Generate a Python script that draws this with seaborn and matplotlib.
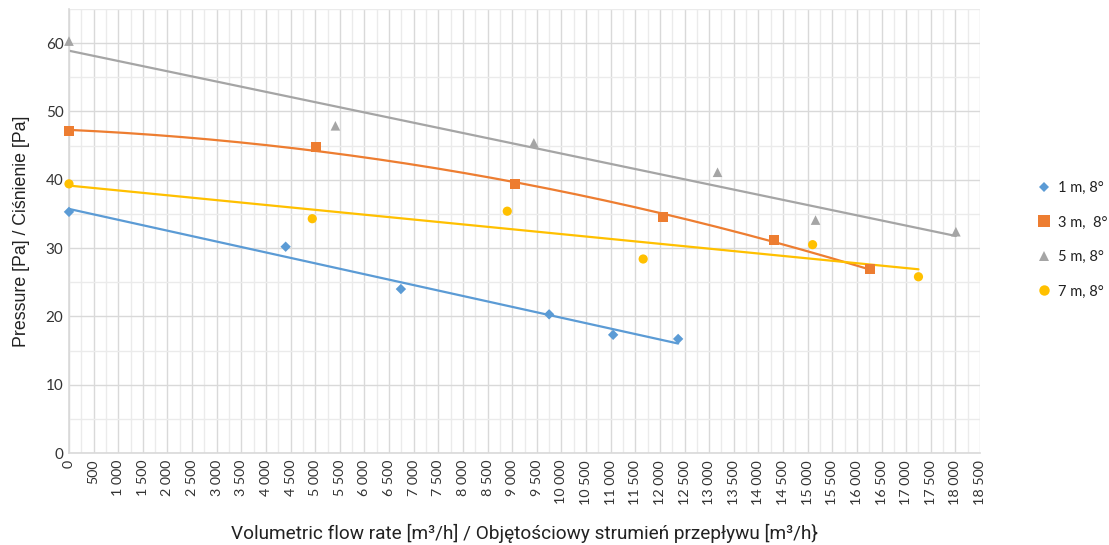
import numpy as np
import pandas as pd
import matplotlib
matplotlib.use("Agg")
import matplotlib.pyplot as plt
from matplotlib.ticker import MultipleLocator, FuncFormatter
from matplotlib.lines import Line2D
import seaborn as sns

# Measured flow rate [m3/h] and pressure [Pa] for each throw distance
series_names = ["1 m, 8°", "3 m,  8°", "5 m, 8°", "7 m, 8°"]

flow_1m = [0, 4400, 6740, 9750, 11050, 12370]
pres_1m = [35.3, 30.2, 24.0, 20.3, 17.3, 16.7]

flow_3m = [0, 5020, 9060, 12070, 14320, 16270]
pres_3m = [47.1, 44.8, 39.4, 34.5, 31.2, 26.9]

flow_5m = [0, 5410, 9440, 13170, 15160, 18010]
pres_5m = [60.3, 47.9, 45.4, 41.1, 34.1, 32.4]

flow_7m = [0, 4940, 8900, 11660, 15100, 17250]
pres_7m = [39.4, 34.3, 35.4, 28.4, 30.5, 25.8]

# Trendline polynomial order per series (linear, quadratic, linear, linear)
trend_order = [1, 2, 1, 1]

colors = ["#5B9BD5", "#ED7D31", "#A5A5A5", "#FFC000"]
markers = ["D", "s", "^", "o"]
marker_sizes = [28, 52, 48, 44]

flows = [flow_1m, flow_3m, flow_5m, flow_7m]
pressures = [pres_1m, pres_3m, pres_5m, pres_7m]

df = pd.concat(
    [pd.DataFrame({"flow": f, "pressure": p, "series": n})
     for f, p, n in zip(flows, pressures, series_names)],
    ignore_index=True,
)

sns.set_theme(style="white")
plt.rcParams["font.family"] = ["Lato", "DejaVu Sans"]

fig = plt.figure(figsize=(11.09, 5.45), dpi=100)
ax = fig.add_axes([0.0622, 0.1688, 0.8215, 0.8147])

# Grid
ax.set_xlim(0, 18500)
ax.set_ylim(0, 65)
ax.xaxis.set_major_locator(MultipleLocator(500))
ax.xaxis.set_minor_locator(MultipleLocator(250))
ax.yaxis.set_major_locator(MultipleLocator(10))
ax.yaxis.set_minor_locator(MultipleLocator(5))
ax.grid(which="major", color="#D9D9D9", linewidth=1.0)
ax.grid(which="minor", color="#EBEBEB", linewidth=1.0)
ax.set_axisbelow(True)
for side in ["top", "right"]:
    ax.spines[side].set_visible(False)
for side in ["left", "bottom"]:
    ax.spines[side].set_color("#D9D9D9")
    ax.spines[side].set_linewidth(1.2)

# Trendlines fitted to each series
for f, p, order, c in zip(flows, pressures, trend_order, colors):
    coef = np.polyfit(f, p, order)
    xs = np.linspace(0, max(f), 200)
    sns.lineplot(x=xs, y=np.polyval(coef, xs), ax=ax, color=c,
                 linewidth=1.6, legend=False, zorder=2)

# Measured points
for name, c, m, s in zip(series_names, colors, markers, marker_sizes):
    sub = df[df["series"] == name]
    sns.scatterplot(data=sub, x="flow", y="pressure", ax=ax, color=c,
                    marker=m, s=s, edgecolor="none", legend=False, zorder=3,
                    clip_on=False)

# Ticks
ax.xaxis.set_major_formatter(
    FuncFormatter(lambda v, _: f"{int(v):,}".replace(",", " ")))
ax.tick_params(axis="x", which="both", length=0, pad=5, labelsize=10.3,
               labelcolor="#333333", labelrotation=90)
ax.tick_params(axis="y", which="both", length=0, pad=4, labelsize=11,
               labelcolor="#333333")

ax.set_xlabel("Volumetric flow rate [m³/h] / Objętościowy strumień przepływu [m³/h}",
              fontsize=13.7, family=["Roboto", "DejaVu Sans"], color="#222222",
              labelpad=14)
ax.set_ylabel("Pressure [Pa] / Ciśnienie [Pa]", fontsize=12.8,
              family=["Liberation Sans", "DejaVu Sans"], color="#222222",
              labelpad=11)

# Legend
handles = [Line2D([], [], linestyle="none", marker=m, color=c,
                  markersize=ms, markeredgewidth=0)
           for m, c, ms in zip(markers, colors, [5.5, 8, 7.5, 7.5])]
leg = fig.legend(handles, series_names, loc="center left",
                 bbox_to_anchor=(0.923, 0.56), frameon=False,
                 fontsize=10.5, labelspacing=1.4, handletextpad=0.45,
                 handlelength=1.0)
for t in leg.get_texts():
    t.set_color("#222222")

fig.savefig("out.png", dpi=100)
